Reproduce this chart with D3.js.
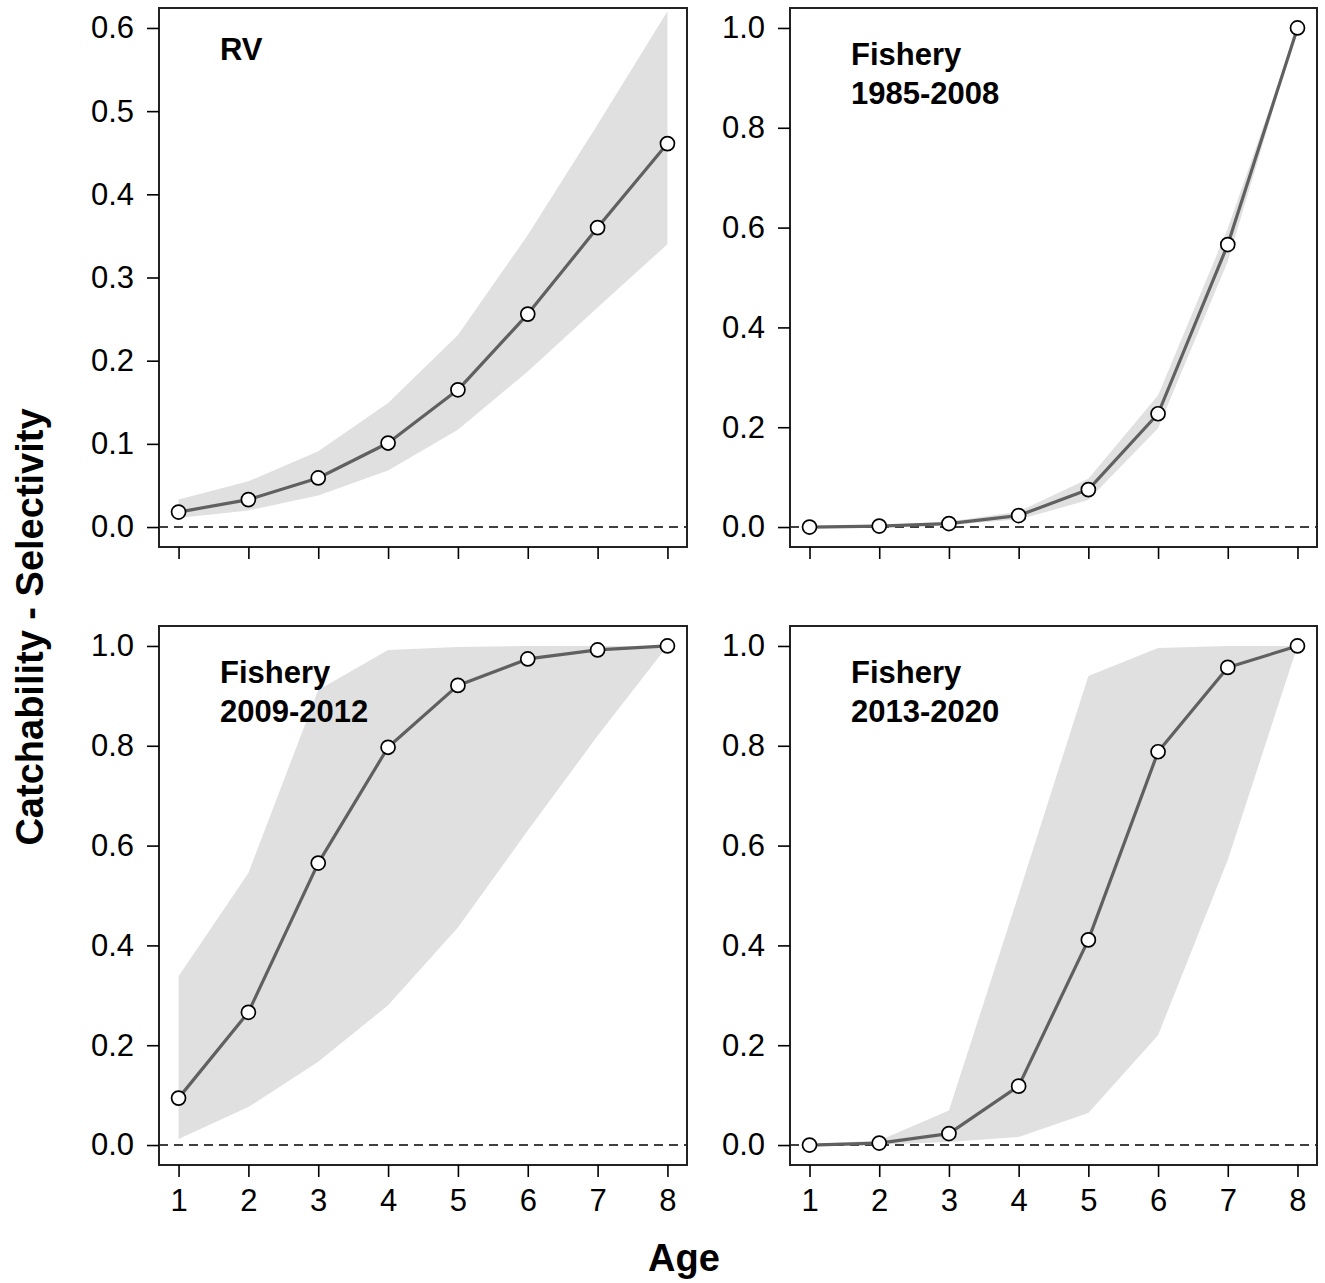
<!DOCTYPE html>
<html>
<head>
<meta charset="utf-8">
<script src="https://cdn.jsdelivr.net/npm/d3@7"></script>
<style>
  body { margin: 0; background: #fff; }
  text { font-family: "Liberation Sans", Arial, sans-serif; }
</style>
</head>
<body>
<svg id="chart" width="1325" height="1283"></svg>
<script>
// Ages shared by every panel
const ages = [1, 2, 3, 4, 5, 6, 7, 8];

// RV survey catchability with confidence band
const rvEst = [0.018, 0.033, 0.059, 0.101, 0.165, 0.256, 0.360, 0.461];
const rvLo  = [0.011, 0.020, 0.038, 0.068, 0.117, 0.187, 0.264, 0.340];
const rvHi  = [0.033, 0.055, 0.091, 0.149, 0.231, 0.351, 0.484, 0.620];

// Fishery selectivity 1985-2008
const f1Est = [0.000, 0.002, 0.007, 0.023, 0.075, 0.227, 0.566, 1.000];
const f1Lo  = [0.000, 0.001, 0.004, 0.015, 0.054, 0.198, 0.532, 1.000];
const f1Hi  = [0.001, 0.004, 0.011, 0.031, 0.097, 0.264, 0.598, 1.000];

// Fishery selectivity 2009-2012
const f2Est = [0.094, 0.266, 0.565, 0.797, 0.921, 0.974, 0.992, 1.000];
const f2Lo  = [0.012, 0.076, 0.167, 0.280, 0.436, 0.630, 0.820, 1.000];
const f2Hi  = [0.338, 0.545, 0.912, 0.992, 0.998, 1.000, 1.000, 1.000];

// Fishery selectivity 2013-2020
const f3Est = [0.000, 0.004, 0.023, 0.118, 0.411, 0.788, 0.957, 1.000];
const f3Lo  = [0.000, 0.001, 0.006, 0.016, 0.064, 0.220, 0.571, 1.000];
const f3Hi  = [0.002, 0.009, 0.069, 0.502, 0.940, 0.996, 1.000, 1.000];

// Axis tick values
const yTicksRV = [0, 0.1, 0.2, 0.3, 0.4, 0.5, 0.6];
const yTicksSel = [0, 0.2, 0.4, 0.6, 0.8, 1.0];

// Panel titles
const titleRV = ["RV"];
const titleF1 = ["Fishery", "1985-2008"];
const titleF2 = ["Fishery", "2009-2012"];
const titleF3 = ["Fishery", "2013-2020"];

const xLabel = "Age";
const yLabel = "Catchability - Selectivity";

const svg = d3.select("#chart");

const panels = [
  { est: rvEst, lo: rvLo, hi: rvHi, ymax: 0.6, ticks: yTicksRV, title: titleRV,
    box: { x0: 159, x1: 687, y0: 8, y1: 547 }, xLabels: false },
  { est: f1Est, lo: f1Lo, hi: f1Hi, ymax: 1.0, ticks: yTicksSel, title: titleF1,
    box: { x0: 790, x1: 1317, y0: 8, y1: 547 }, xLabels: false },
  { est: f2Est, lo: f2Lo, hi: f2Hi, ymax: 1.0, ticks: yTicksSel, title: titleF2,
    box: { x0: 159, x1: 687, y0: 626, y1: 1165 }, xLabels: true },
  { est: f3Est, lo: f3Lo, hi: f3Hi, ymax: 1.0, ticks: yTicksSel, title: titleF3,
    box: { x0: 790, x1: 1317, y0: 626, y1: 1165 }, xLabels: true }
];

const tickLen = 12;
const tickFont = 31;

panels.forEach((p, i) => {
  const b = p.box;
  // 4% padding on each side of the data range
  const xpad = (8 - 1) * 0.04;
  const ypad = p.ymax * 0.04;
  const x = d3.scaleLinear().domain([1 - xpad, 8 + xpad]).range([b.x0, b.x1]);
  const y = d3.scaleLinear().domain([-ypad, p.ymax + ypad]).range([b.y1, b.y0]);

  const g = svg.append("g");
  const clipId = "clip" + i;
  g.append("clipPath").attr("id", clipId)
    .append("rect").attr("x", b.x0).attr("y", b.y0)
    .attr("width", b.x1 - b.x0).attr("height", b.y1 - b.y0);

  const plot = g.append("g").attr("clip-path", `url(#${clipId})`);

  // confidence band
  const rows = ages.map((a, k) => ({ a, est: p.est[k], lo: p.lo[k], hi: p.hi[k] }));
  plot.append("path")
    .datum(rows)
    .attr("fill", "#e0e0e0")
    .attr("stroke", "none")
    .attr("d", d3.area().x(d => x(d.a)).y0(d => y(d.lo)).y1(d => y(d.hi)));

  // zero reference line
  plot.append("line")
    .attr("x1", b.x0).attr("x2", b.x1)
    .attr("y1", y(0)).attr("y2", y(0))
    .attr("stroke", "#000").attr("stroke-width", 1.6)
    .attr("stroke-dasharray", "9,6");

  // estimate line
  plot.append("path")
    .datum(rows)
    .attr("fill", "none")
    .attr("stroke", "#606060")
    .attr("stroke-width", 3.2)
    .attr("stroke-linejoin", "round")
    .attr("d", d3.line().x(d => x(d.a)).y(d => y(d.est)));

  // points
  plot.selectAll("circle")
    .data(rows).enter().append("circle")
    .attr("cx", d => x(d.a)).attr("cy", d => y(d.est))
    .attr("r", 7)
    .attr("fill", "#fff").attr("stroke", "#000").attr("stroke-width", 1.7);

  // frame
  g.append("rect")
    .attr("x", b.x0).attr("y", b.y0)
    .attr("width", b.x1 - b.x0).attr("height", b.y1 - b.y0)
    .attr("fill", "none").attr("stroke", "#222").attr("stroke-width", 2);

  // y axis
  const yAxis = d3.axisLeft(y).tickValues(p.ticks)
    .tickFormat(d3.format(".1f")).tickSize(tickLen).tickPadding(13);
  const ya = g.append("g").attr("transform", `translate(${b.x0},0)`).call(yAxis);
  ya.select(".domain").remove();
  ya.selectAll(".tick line").attr("stroke", "#000").attr("stroke-width", 1.6);
  ya.selectAll(".tick text").attr("font-size", tickFont).attr("fill", "#000")
    .attr("font-family", "'Liberation Sans', Arial, sans-serif");

  // x axis
  const xAxis = d3.axisBottom(x).tickValues(ages)
    .tickFormat(p.xLabels ? d3.format("d") : () => "").tickSize(tickLen).tickPadding(12);
  const xa = g.append("g").attr("transform", `translate(0,${b.y1})`).call(xAxis);
  xa.select(".domain").remove();
  xa.selectAll(".tick line").attr("stroke", "#000").attr("stroke-width", 1.6);
  xa.selectAll(".tick text").attr("font-size", tickFont).attr("fill", "#000")
    .attr("font-family", "'Liberation Sans', Arial, sans-serif");

  // panel title
  const t = g.append("text")
    .attr("x", b.x0 + 61).attr("y", b.y0 + (p.title.length > 1 ? 57 : 52))
    .attr("font-size", 31).attr("font-weight", "bold").attr("fill", "#000");
  p.title.forEach((line, k) => {
    t.append("tspan").attr("x", b.x0 + 61).attr("dy", k === 0 ? 0 : 39).text(line);
  });
});

// shared axis titles
svg.append("text")
  .attr("x", 684).attr("y", 1271)
  .attr("text-anchor", "middle")
  .attr("font-size", 38).attr("font-weight", "bold")
  .text(xLabel);

svg.append("text")
  .attr("transform", "translate(43,627) rotate(-90)")
  .attr("text-anchor", "middle")
  .attr("font-size", 38).attr("font-weight", "bold")
  .text(yLabel);
</script>
</body>
</html>
